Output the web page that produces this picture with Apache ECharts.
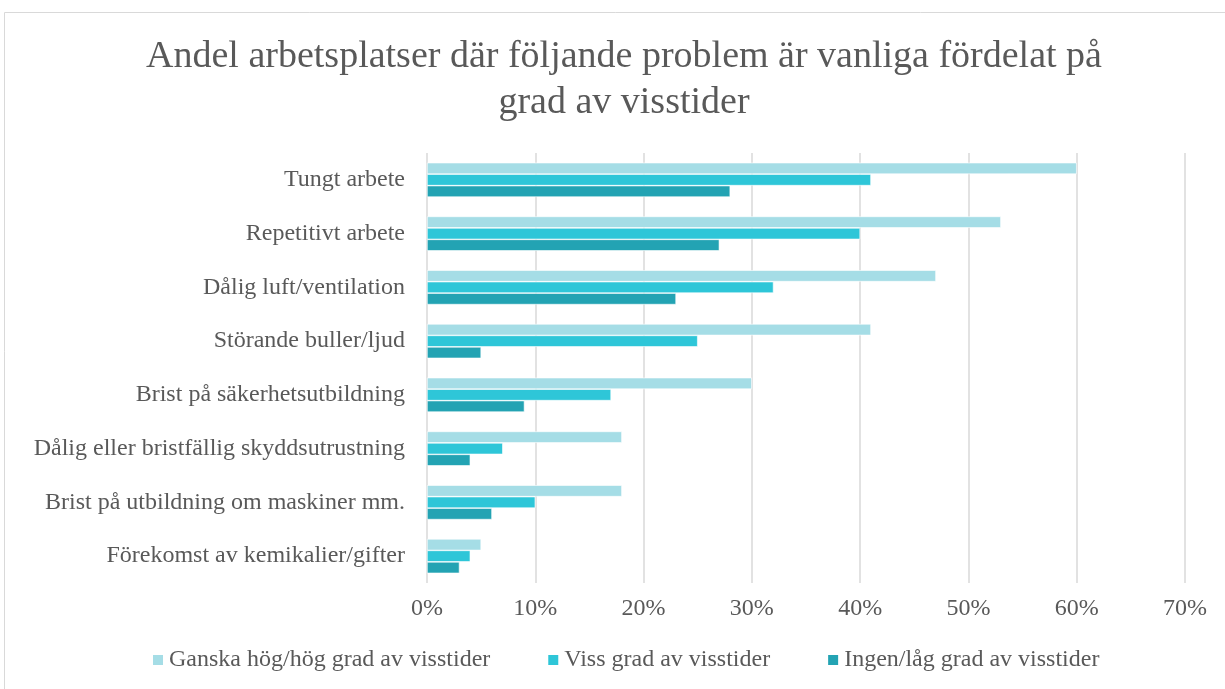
<!DOCTYPE html>
<html>
<head>
<meta charset="utf-8">
<script src="https://cdn.jsdelivr.net/npm/echarts@6/dist/echarts.min.js"></script>
<style>
	html, body { margin: 0; padding: 0; background: #fff; }
	#chart { width: 1225px; height: 689px; }
</style>
</head>
<body>
<div id="chart"></div>
<script type="text/javascript">
	// kategorier uppifrån och ned
	var categories = ['Tungt arbete', 'Repetitivt arbete', 'Dålig luft/ventilation', 'Störande buller/ljud',
		'Brist på säkerhetsutbildning', 'Dålig eller bristfällig skyddsutrustning',
		'Brist på utbildning om maskiner mm.', 'Förekomst av kemikalier/gifter'];
	var seriesNames = ['Ganska hög/hög grad av visstider', 'Viss grad av visstider', 'Ingen/låg grad av visstider'];
	var hogGrad = [60, 53, 47, 41, 30, 18, 18, 5];
	var vissGrad = [41, 40, 32, 25, 17, 7, 10, 4];
	var lagGrad = [28, 27, 23, 5, 9, 4, 6, 3];
	var xTicks = [0, 10, 20, 30, 40, 50, 60, 70];

	var colors = ['#a5dde6', '#2ec6d8', '#23a3b3'];
	var font = '"Liberation Serif", "DejaVu Serif", serif';
	var textColor = '#595959';

	var myChart = echarts.init(document.getElementById('chart'));
	function mkSeries(i, data) {
		return {
			name: seriesNames[i],
			type: 'bar',
			data: data,
			barGap: '0%',
			barCategoryGap: '36%',
			itemStyle: { color: colors[i], borderColor: '#ffffff', borderWidth: 0.6 },
			emphasis: { disabled: true }
		};
	}
	var option = {
		animation: false,
		textStyle: { fontFamily: font },
		graphic: [{
			type: 'rect',
			shape: { x: 4.5, y: 12.5, width: 1230, height: 690 },
			style: { fill: 'none', stroke: '#d9d9d9', lineWidth: 1 },
			silent: true
		}],
		title: {
			text: 'Andel arbetsplatser där följande problem är vanliga fördelat på\ngrad av visstider',
			left: 624,
			textAlign: 'center',
			top: 34,
			padding: 0,
			textStyle: { fontFamily: font, fontSize: 38, fontWeight: 'normal', color: textColor, lineHeight: 46 }
		},
		legend: {
			data: seriesNames,
			bottom: 12,
			left: 146,
			itemWidth: 12,
			itemHeight: 12,
			itemGap: 56,
			icon: 'rect',
			textStyle: { fontFamily: font, fontSize: 24, color: textColor }
		},
		grid: { left: 427, right: 40, top: 153, bottom: 106, containLabel: false },
		xAxis: {
			type: 'value',
			min: 0,
			max: 70,
			interval: 10,
			axisLine: { show: false },
			axisTick: { show: false },
			splitLine: { lineStyle: { color: '#d9d9d9', width: 1.5 } },
			axisLabel: {
				fontFamily: font, fontSize: 24, color: textColor, margin: 14,
				formatter: function (v) { return xTicks.indexOf(v) >= 0 ? v + '%' : ''; }
			}
		},
		yAxis: {
			type: 'category',
			data: categories,
			inverse: true,
			axisLine: { show: false },
			axisTick: { show: false },
			axisLabel: { fontFamily: font, fontSize: 24, color: textColor, margin: 22 }
		},
		series: [mkSeries(0, hogGrad), mkSeries(1, vissGrad), mkSeries(2, lagGrad)]
	};
	myChart.setOption(option);
</script>
</body>
</html>
